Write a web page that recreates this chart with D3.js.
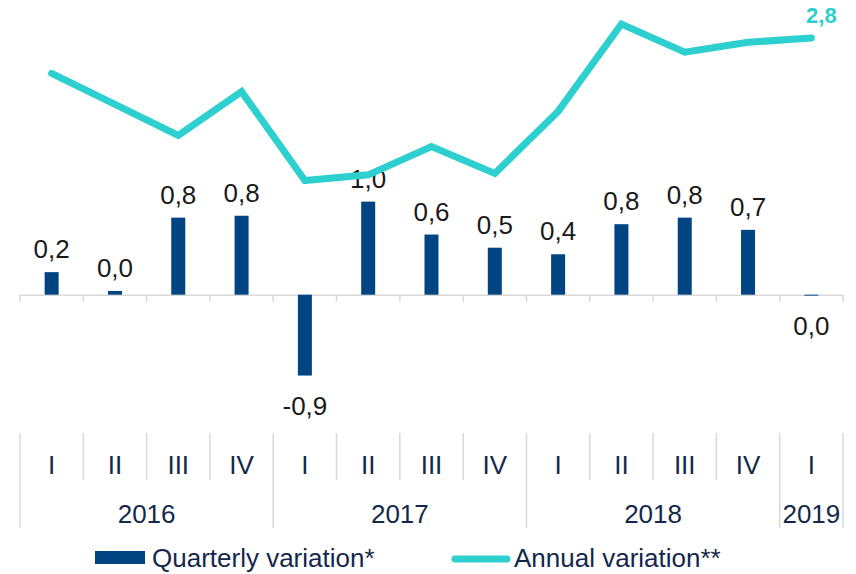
<!DOCTYPE html>
<html>
<head>
<meta charset="utf-8">
<script src="https://cdn.jsdelivr.net/npm/d3@7"></script>
<style>
  body { margin: 0; background: #fff; }
  svg { font-family: "Liberation Sans", Arial, sans-serif; }
</style>
</head>
<body>
<div id="chart"></div>
<script>
// quarters and years
var quarters = ["I", "II", "III", "IV", "I", "II", "III", "IV", "I", "II", "III", "IV", "I"];
var years = ["2016", "2017", "2018", "2019"];
var yearSpans = [4, 4, 4, 1];

// Quarterly variation (bars)
var quarterly = [0.24, 0.04, 0.82, 0.84, -0.86, 0.99, 0.64, 0.50, 0.43, 0.75, 0.82, 0.69, -0.01];
// Annual variation (line)
var annual = [2.57, 2.35, 2.13, 2.44, 1.81, 1.85, 2.05, 1.86, 2.30, 2.92, 2.72, 2.79, 2.82];

var svgWidth = 856;
var svgHeight = 574;

var svg = d3.select("#chart")
  .append("svg")
  .attr("width", svgWidth)
  .attr("height", svgHeight);

var idx = d3.range(quarters.length);

var xScale = d3.scaleBand()
  .domain(idx)
  .range([20, 843])
  .padding(0);

// primary axis for bars, secondary for the line
var yBar = d3.scaleLinear()
  .domain([-1.5, 3])
  .range([435.7, 12.7]);

var yLine = d3.scaleLinear()
  .domain([0, 3])
  .range([435.7, 12.7]);

var fmt = function(v) {
  return (Math.round(v * 10) / 10).toFixed(1).replace(".", ",");
};

var axisColor = "#d9d9d9";
var y0 = yBar(0);

// category axis line with ticks
var xAxis = d3.axisBottom(xScale)
  .tickValues([])
  .tickSizeOuter(0);

svg.append("g")
  .attr("transform", `translate(0, ${y0})`)
  .call(xAxis)
  .select(".domain")
  .attr("stroke", axisColor)
  .attr("stroke-width", 1.5);

var tickPos = idx.map(i => xScale(i)).concat([xScale.range()[1]]);
svg.append("g")
  .selectAll("line")
  .data(tickPos)
  .enter()
  .append("line")
  .attr("x1", d => d).attr("x2", d => d)
  .attr("y1", y0).attr("y2", y0 + 7)
  .attr("stroke", axisColor)
  .attr("stroke-width", 1.5);

// bars
var barW = 14;
svg.append("g")
  .selectAll("rect")
  .data(quarterly)
  .enter()
  .append("rect")
  .attr("x", (d, i) => xScale(i) + xScale.bandwidth() / 2 - barW / 2)
  .attr("y", d => Math.min(yBar(d), y0))
  .attr("width", barW)
  .attr("height", d => Math.abs(yBar(d) - y0))
  .attr("fill", "#004481");

// bar labels
svg.append("g")
  .selectAll("text")
  .data(quarterly)
  .enter()
  .append("text")
  .attr("x", (d, i) => xScale(i) + xScale.bandwidth() / 2)
  .attr("y", d => d >= 0 ? yBar(d) - 14 : yBar(d) + 39)
  .attr("text-anchor", "middle")
  .attr("font-size", 26)
  .attr("fill", "#1a1a1a")
  .text(d => fmt(d));

// annual line
var line = d3.line()
  .x((d, i) => xScale(i) + xScale.bandwidth() / 2)
  .y(d => yLine(d));

svg.append("path")
  .datum(annual)
  .attr("d", line)
  .attr("fill", "none")
  .attr("stroke", "#2ecfcf")
  .attr("stroke-width", 7)
  .attr("stroke-linecap", "round")
  .attr("stroke-linejoin", "miter");

// last value label
var last = annual.length - 1;
svg.append("text")
  .attr("x", xScale(last) + xScale.bandwidth() / 2 + 10)
  .attr("y", yLine(annual[last]) - 15)
  .attr("text-anchor", "middle")
  .attr("font-size", 22)
  .attr("font-weight", "bold")
  .attr("fill", "#2ecfcf")
  .text(fmt(annual[last]));

// multi-level category labels
var labelTop = 433;
var qBottom = 480;
var yBottom = 528;
var labelColor = "#14284b";

var qGroup = svg.append("g");
qGroup.selectAll("line")
  .data(tickPos)
  .enter()
  .append("line")
  .attr("x1", d => d).attr("x2", d => d)
  .attr("y1", labelTop).attr("y2", qBottom)
  .attr("stroke", axisColor)
  .attr("stroke-width", 1.5);

qGroup.selectAll("text")
  .data(quarters)
  .enter()
  .append("text")
  .attr("x", (d, i) => xScale(i) + xScale.bandwidth() / 2)
  .attr("y", 474)
  .attr("text-anchor", "middle")
  .attr("font-size", 26)
  .attr("fill", labelColor)
  .text(d => d);

// year groups
var starts = [];
var acc = 0;
yearSpans.forEach(function(s) { starts.push(acc); acc += s; });

var yGroup = svg.append("g");
yGroup.selectAll("line")
  .data(starts.concat([acc]))
  .enter()
  .append("line")
  .attr("x1", d => d < quarters.length ? xScale(d) : xScale.range()[1])
  .attr("x2", d => d < quarters.length ? xScale(d) : xScale.range()[1])
  .attr("y1", qBottom).attr("y2", yBottom)
  .attr("stroke", axisColor)
  .attr("stroke-width", 1.5);

yGroup.selectAll("text")
  .data(years)
  .enter()
  .append("text")
  .attr("x", (d, i) => {
    var a = xScale(starts[i]);
    var b = xScale(starts[i]) + yearSpans[i] * xScale.bandwidth();
    return (a + b) / 2;
  })
  .attr("y", 523)
  .attr("text-anchor", "middle")
  .attr("font-size", 26)
  .attr("fill", labelColor)
  .text(d => d);

// legend
var legend = svg.append("g");
legend.append("rect")
  .attr("x", 95).attr("y", 551)
  .attr("width", 50).attr("height", 13)
  .attr("fill", "#004481");
legend.append("text")
  .attr("x", 152).attr("y", 567)
  .attr("font-size", 26)
  .attr("fill", labelColor)
  .text("Quarterly variation*");

legend.append("line")
  .attr("x1", 455).attr("x2", 507)
  .attr("y1", 559).attr("y2", 559)
  .attr("stroke", "#2ecfcf")
  .attr("stroke-width", 7)
  .attr("stroke-linecap", "round");
legend.append("text")
  .attr("x", 514).attr("y", 567)
  .attr("font-size", 26)
  .attr("fill", labelColor)
  .text("Annual variation**");
</script>
</body>
</html>
